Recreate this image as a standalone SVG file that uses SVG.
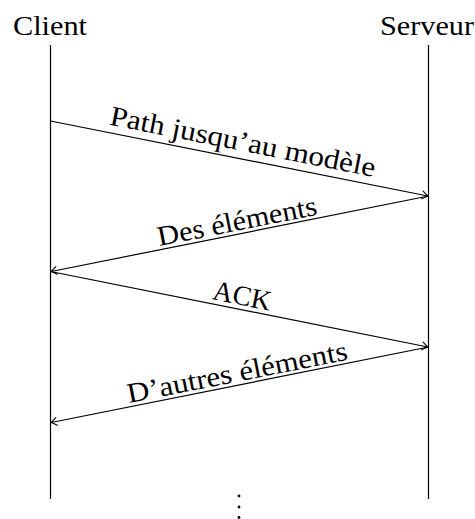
<svg xmlns="http://www.w3.org/2000/svg" width="475" height="519" viewBox="0 0 475 519">
  <style>
    .lbl { font-family: "Liberation Serif", "DejaVu Serif", serif; font-size: 28px; fill: #000; }
    .life { stroke: #000; stroke-width: 1.2; fill: none; }
    .msg { stroke: #000; stroke-width: 1.2; fill: none; marker-end: url(#to); }
  </style>
  <defs>
    <!-- open "to"-style arrow tip -->
    <marker id="to" markerUnits="userSpaceOnUse" markerWidth="14" markerHeight="14" viewBox="-8 -7 10 14" refX="0" refY="0" orient="auto" overflow="visible">
      <path d="M -5.5 -3.8 Q -1.6 -0.9 0 0 Q -1.6 0.9 -5.5 3.8" fill="none" stroke="#000" stroke-width="1.1" stroke-linecap="round"/>
    </marker>
  </defs>
  <rect width="475" height="519" fill="#fff"/>

  <!-- participants with their lifelines -->
  <g id="client">
    <text class="lbl" x="50" y="35" text-anchor="middle" textLength="74" lengthAdjust="spacingAndGlyphs">Client</text>
    <line class="life" x1="50.5" y1="45" x2="50.5" y2="499"/>
  </g>
  <g id="serveur">
    <text class="lbl" x="474" y="35" text-anchor="end" textLength="94" lengthAdjust="spacingAndGlyphs">Serveur</text>
    <line class="life" x1="428.5" y1="45" x2="428.5" y2="499"/>
  </g>

  <!-- messages -->
  <g id="messages">
    <line class="msg" x1="50.5" y1="121" x2="427.8" y2="196"/>
    <line class="msg" x1="428.5" y1="196" x2="51.2" y2="271.5"/>
    <line class="msg" x1="50.5" y1="271.5" x2="427.8" y2="347"/>
    <line class="msg" x1="428.5" y1="347" x2="51.2" y2="422.5"/>
  </g>

  <!-- message labels, sloped along each arrow -->
  <g id="labels">
    <g transform="translate(239.5 158.5) rotate(11.22)">
      <text class="lbl" x="0" y="-8" text-anchor="middle" textLength="270" lengthAdjust="spacingAndGlyphs">Path jusqu’au modèle</text>
    </g>
    <g transform="translate(239.5 233.75) rotate(-11.22)">
      <text class="lbl" x="0" y="-3.5" text-anchor="middle" textLength="162" lengthAdjust="spacingAndGlyphs">Des éléments</text>
    </g>
    <g transform="translate(239.5 309.25) rotate(11.22)">
      <text class="lbl" x="0" y="-4.5" text-anchor="middle" textLength="59" lengthAdjust="spacingAndGlyphs">ACK</text>
    </g>
    <g transform="translate(239.5 384.75) rotate(-11.22)">
      <text class="lbl" x="0" y="-3.5" text-anchor="middle" textLength="224" lengthAdjust="spacingAndGlyphs">D’autres éléments</text>
    </g>
  </g>

  <!-- continuation dots -->
  <g id="vdots" fill="#000">
    <circle cx="239" cy="496" r="1.4"/>
    <circle cx="239" cy="507" r="1.4"/>
    <circle cx="239" cy="517.5" r="1.4"/>
  </g>
</svg>
